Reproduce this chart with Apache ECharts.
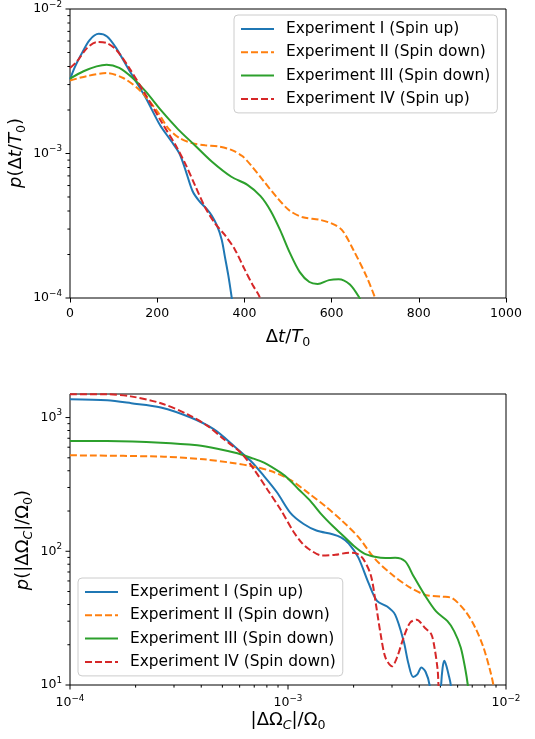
<!DOCTYPE html>
<html><head><meta charset="utf-8">
<script src="https://cdn.jsdelivr.net/npm/echarts@6/dist/echarts.min.js"></script>
<style>html,body{margin:0;padding:0;background:#fff}#c{width:535px;height:739px}</style>
</head><body><div id="c"></div>
<script>
// ---------- Top panel: p(Δt/T0) vs Δt/T0 ----------
const dtExp1X = [0, 10, 25, 45, 66, 85, 106, 136, 173, 206, 232, 251, 266, 281, 296, 314, 325, 337, 348, 355, 363, 370, 378];
const dtExp1Y = [3.25e-3, 3.9e-3, 4.8e-3, 6.1e-3, 6.73e-3, 6.45e-3, 5.36e-3, 3.75e-3, 2.45e-3, 1.58e-3, 1.22e-3, 1.0e-3, 7.5e-4, 5.5e-4, 4.7e-4, 4.12e-4, 3.72e-4, 3.18e-4, 2.53e-4, 1.95e-4, 1.44e-4, 1.05e-4, 7.0e-5];
const dtExp2X = [0, 38, 84, 122, 161, 199, 225, 251, 280, 310, 340, 370, 395, 415, 445, 475, 504, 534, 572, 601, 624, 650, 680, 700, 712];
const dtExp2Y = [3.2e-3, 3.43e-3, 3.6e-3, 3.33e-3, 2.72e-3, 1.98e-3, 1.5e-3, 1.28e-3, 1.18e-3, 1.14e-3, 1.12e-3, 1.06e-3, 9.6e-4, 8.3e-4, 6.4e-4, 4.95e-4, 4.02e-4, 3.62e-4, 3.48e-4, 3.27e-4, 2.95e-4, 2.15e-4, 1.41e-4, 1.0e-4, 8.0e-5];
const dtExp3X = [0, 31, 61, 84, 113, 143, 173, 210, 248, 285, 325, 370, 407, 437, 460, 482, 504, 527, 549, 568, 594, 616, 642, 664, 675];
const dtExp3Y = [3.3e-3, 3.71e-3, 4.01e-3, 4.12e-3, 3.91e-3, 3.34e-3, 2.7e-3, 1.97e-3, 1.47e-3, 1.15e-3, 8.8e-4, 6.9e-4, 6.07e-4, 5.07e-4, 4.02e-4, 2.95e-4, 2.06e-4, 1.51e-4, 1.29e-4, 1.25e-4, 1.33e-4, 1.35e-4, 1.24e-4, 1.0e-4, 8.5e-5];
const dtExp4X = [0, 16, 39, 61, 84, 106, 136, 173, 210, 243, 266, 288, 310, 333, 355, 378, 400, 419, 434, 445];
const dtExp4Y = [3.9e-3, 4.34e-3, 5.36e-3, 5.9e-3, 5.81e-3, 5.22e-3, 3.9e-3, 2.56e-3, 1.65e-3, 1.13e-3, 8.3e-4, 5.9e-4, 4.23e-4, 3.27e-4, 2.73e-4, 2.17e-4, 1.59e-4, 1.23e-4, 1.03e-4, 8.0e-5];
const topNames = ['Experiment I (Spin up)', 'Experiment II (Spin down)', 'Experiment III (Spin down)', 'Experiment IV (Spin up)'];

// ---------- Bottom panel: p(|ΔΩC|/Ω0) vs |ΔΩC|/Ω0 ----------
const omExp1X = [1.0e-4, 1.48e-4, 1.91e-4, 2.61e-4, 3.58e-4, 4.58e-4, 5.65e-4, 6.75e-4, 7.76e-4, 8.93e-4, 1.03e-3, 1.18e-3, 1.35e-3, 1.6e-3, 1.75e-3, 1.9e-3, 2.1e-3, 2.34e-3, 2.56e-3, 2.85e-3, 3.1e-3, 3.39e-3, 3.57e-3, 3.75e-3, 3.92e-3, 4.09e-3, 4.28e-3, 4.46e-3, 4.6e-3, 4.95e-3, 5.04e-3, 5.12e-3, 5.21e-3, 5.32e-3, 5.45e-3, 5.58e-3, 5.7e-3];
const omExp1Y = [1370, 1345, 1280, 1190, 1000, 815, 613, 473, 365, 274, 192, 160, 143, 134, 127, 114, 90, 58, 42.5, 38.6, 33.6, 21.4, 14.4, 11.5, 12, 13.5, 12.5, 10, 6, 5, 10, 13.5, 15.2, 14, 12, 10, 6];
const omExp2X = [1.0e-4, 2.7e-4, 4.12e-4, 5.46e-4, 6.75e-4, 8.34e-4, 1.03e-3, 1.25e-3, 1.48e-3, 1.77e-3, 2.11e-3, 2.5e-3, 3.0e-3, 3.6e-3, 4.3e-3, 5.12e-3, 5.68e-3, 6.52e-3, 7.23e-3, 7.88e-3, 8.45e-3, 8.75e-3, 9.0e-3];
const omExp2Y = [522, 510, 487, 460, 434, 398, 340, 270, 218, 169, 127, 88, 67, 54, 47, 45.8, 44.5, 35.5, 26.8, 19.1, 12.9, 10, 7];
const omExp3X = [1.0e-4, 1.48e-4, 2.61e-4, 3.84e-4, 4.74e-4, 5.86e-4, 6.75e-4, 7.76e-4, 9.25e-4, 1.0e-3, 1.12e-3, 1.26e-3, 1.41e-3, 1.6e-3, 1.78e-3, 2.0e-3, 2.24e-3, 2.5e-3, 2.8e-3, 3.1e-3, 3.45e-3, 3.75e-3, 4.24e-3, 4.78e-3, 5.39e-3, 5.78e-3, 6.2e-3, 6.52e-3, 6.68e-3, 6.85e-3];
const omExp3Y = [668, 667, 649, 620, 585, 540, 501, 460, 387, 350, 290, 240, 192, 155, 132, 110, 96, 91, 89, 89.5, 84, 66, 47, 35.5, 30, 25.3, 19.1, 12.9, 10, 7];
const omExp4X = [1.0e-4, 1.48e-4, 1.9e-4, 2.61e-4, 3.45e-4, 4.27e-4, 5.08e-4, 6.07e-4, 6.98e-4, 8.04e-4, 9.25e-4, 1.06e-3, 1.16e-3, 1.245e-3, 1.43e-3, 1.65e-3, 1.9e-3, 2.07e-3, 2.22e-3, 2.4e-3, 2.52e-3, 2.66e-3, 2.8e-3, 3.0e-3, 3.16e-3, 3.39e-3, 3.63e-3, 3.89e-3, 4.24e-3, 4.54e-3, 4.7e-3, 4.86e-3, 4.9e-3, 4.98e-3];
const omExp4Y = [1495, 1492, 1440, 1280, 1060, 866, 688, 546, 410, 290, 205, 140, 115, 104, 93, 94, 97.5, 96, 87, 66, 42, 24, 16, 13.8, 16, 22.6, 29.2, 30.8, 26.8, 24, 19, 12.9, 10, 6];
const bottomNames = ['Experiment I (Spin up)', 'Experiment II (Spin down)', 'Experiment III (Spin down)', 'Experiment IV (Spin down)'];

// ---------- Tick values for log axes ----------
const topYMajor = [1e-4, 1e-3, 1e-2];
const topYMinor = [2e-4, 3e-4, 4e-4, 5e-4, 6e-4, 7e-4, 8e-4, 9e-4, 2e-3, 3e-3, 4e-3, 5e-3, 6e-3, 7e-3, 8e-3, 9e-3];
const botXMajor = [1e-4, 1e-3, 1e-2];
const botXMinor = [2e-4, 3e-4, 4e-4, 5e-4, 6e-4, 7e-4, 8e-4, 9e-4, 2e-3, 3e-3, 4e-3, 5e-3, 6e-3, 7e-3, 8e-3, 9e-3];
const botYMajor = [10, 100, 1000];
const botYMinor = [20, 30, 40, 50, 60, 70, 80, 90, 200, 300, 400, 500, 600, 700, 800, 900];

const FONT = 'DejaVu Sans';
const C1 = '#1f77b4', C2 = '#ff7f0e', C3 = '#2ca02c', C4 = '#d62728';
const DASH = [7, 3];

const zip = (xs, ys) => xs.map((x, i) => [x, ys[i]]);

function lineSeries(name, xs, ys, color, dashed, gi) {
  return {
    type: 'line', name, data: zip(xs, ys), xAxisIndex: gi, yAxisIndex: gi,
    symbol: 'none', showSymbol: false, smooth: 0.3, clip: true,
    lineStyle: { color, width: 2, type: dashed ? DASH : 'solid' },
    itemStyle: { color },
    emphasis: { disabled: true }, silent: true, animation: false
  };
}

function tickSeries(gi, data, dir, len) {
  return {
    type: 'custom', xAxisIndex: gi, yAxisIndex: gi, data, silent: true, clip: false, animation: false,
    renderItem(params, api) {
      const p = api.coord([api.value(0), api.value(1)]);
      const x1 = p[0], y1 = p[1];
      const x2 = dir === 'y' ? x1 - len : x1;
      const y2 = dir === 'y' ? y1 : y1 + len;
      return { type: 'line', shape: { x1, y1, x2, y2 }, style: { stroke: '#000', lineWidth: 1 } };
    }
  };
}

function powLabel(v) {
  const e = Math.log10(v);
  const r = Math.round(e);
  if (Math.abs(e - r) > 1e-6) return '';
  return '{b|10}{s|' + (r < 0 ? '\u2212' + (-r) : String(r)) + '}';
}
const powRich = {
  b: { fontSize: 12.5, lineHeight: 18, fontFamily: FONT, color: '#000', verticalAlign: 'middle' },
  s: { fontSize: 8.8, lineHeight: 12, fontFamily: FONT, color: '#000', verticalAlign: 'top' }
};
const logLabel = { formatter: powLabel, rich: powRich, margin: 8, color: '#000', fontFamily: FONT };

const titleRich = {
  up: { fontSize: 18, lineHeight: 24, fontFamily: FONT, fill: '#000', color: '#000', verticalAlign: 'middle' },
  it: { fontSize: 18, lineHeight: 24, fontFamily: FONT, fontStyle: 'italic', fill: '#000', color: '#000', verticalAlign: 'middle' },
  sub: { fontSize: 12.6, lineHeight: 15, fontFamily: FONT, fill: '#000', color: '#000', verticalAlign: 'bottom' },
  subi: { fontSize: 12.6, lineHeight: 15, fontFamily: FONT, fontStyle: 'italic', fill: '#000', color: '#000', verticalAlign: 'bottom' }
};

function legendCfg(names, left, top) {
  return {
    data: names, orient: 'vertical', left, top,
    itemWidth: 33, itemHeight: 12, itemGap: 7.3,
    padding: [6, 7, 6, 6],
    backgroundColor: 'rgba(255,255,255,0.8)', borderColor: '#cccccc', borderWidth: 1, borderRadius: 4,
    textStyle: { fontFamily: FONT, fontSize: 15.4, color: '#000', lineHeight: 16, padding: [0, 0, 0, 7] },
    itemStyle: { opacity: 0 },
    selectedMode: false
  };
}

const chart = echarts.init(document.getElementById('c'), null, { renderer: 'canvas' });
chart.setOption({
  backgroundColor: '#fff',
  animation: false,
  textStyle: { fontFamily: FONT },
  grid: [
    { left: 70, top: 7, width: 436, height: 291, show: true, borderColor: '#000', borderWidth: 1, backgroundColor: 'transparent' },
    { left: 70, top: 394, width: 436, height: 291, show: true, borderColor: '#000', borderWidth: 1, backgroundColor: 'transparent' }
  ],
  xAxis: [
    { gridIndex: 0, type: 'value', min: 0, max: 1000, interval: 200,
      axisLine: { show: false }, splitLine: { show: false },
      axisTick: { show: true, length: 4.5, lineStyle: { color: '#000', width: 1 } },
      axisLabel: { fontSize: 12.5, color: '#000', margin: 9, fontFamily: FONT, formatter: v => String(v) } },
    { gridIndex: 1, type: 'log', logBase: 10, min: 1e-4, max: 1e-2,
      axisLine: { show: false }, splitLine: { show: false }, axisTick: { show: false },
      axisLabel: Object.assign({}, logLabel, { margin: 9 }) }
  ],
  yAxis: [
    { gridIndex: 0, type: 'log', logBase: 10, min: 1e-4, max: 1e-2,
      axisLine: { show: false }, splitLine: { show: false }, axisTick: { show: false },
      axisLabel: logLabel },
    { gridIndex: 1, type: 'log', logBase: 10, min: 10, max: 1500,
      axisLine: { show: false }, splitLine: { show: false }, axisTick: { show: false },
      axisLabel: logLabel }
  ],
  legend: [legendCfg(topNames, 234, 15), legendCfg(bottomNames, 78, 578)],
  series: [
    lineSeries(topNames[0], dtExp1X, dtExp1Y, C1, false, 0),
    lineSeries(topNames[1], dtExp2X, dtExp2Y, C2, true, 0),
    lineSeries(topNames[2], dtExp3X, dtExp3Y, C3, false, 0),
    lineSeries(topNames[3], dtExp4X, dtExp4Y, C4, true, 0),
    lineSeries(bottomNames[0], omExp1X, omExp1Y, C1, false, 1),
    lineSeries(bottomNames[1], omExp2X, omExp2Y, C2, true, 1),
    lineSeries(bottomNames[2], omExp3X, omExp3Y, C3, false, 1),
    lineSeries(bottomNames[3], omExp4X, omExp4Y, C4, true, 1),
    tickSeries(0, topYMajor.map(v => [0, v]), 'y', 4.5),
    tickSeries(0, topYMinor.map(v => [0, v]), 'y', 2.6),
    tickSeries(1, botXMajor.map(v => [v, 10]), 'x', 4.5),
    tickSeries(1, botXMinor.map(v => [v, 10]), 'x', 2.6),
    tickSeries(1, botYMajor.map(v => [1e-4, v]), 'y', 4.5),
    tickSeries(1, botYMinor.map(v => [1e-4, v]), 'y', 2.6)
  ],
  graphic: [
    { type: 'text', x: 288, y: 337, silent: true,
      style: { text: '{up|\u0394}{it|t}{up|/}{it|T}{sub|0}', rich: titleRich, align: 'center', verticalAlign: 'middle', textAlign: 'center', textVerticalAlign: 'middle', fill: '#000', fontFamily: FONT, fontSize: 18 } },
    { type: 'text', x: 16, y: 153, rotation: Math.PI / 2, silent: true,
      style: { text: '{it|p}{up|(\u0394}{it|t}{up|/}{it|T}{sub|0}{up|)}', rich: titleRich, align: 'center', verticalAlign: 'middle', textAlign: 'center', textVerticalAlign: 'middle', fill: '#000', fontFamily: FONT, fontSize: 18 } },
    { type: 'text', x: 288, y: 720, silent: true,
      style: { text: '{up||\u0394\u03A9}{subi|C}{up||/\u03A9}{sub|0}', rich: titleRich, align: 'center', verticalAlign: 'middle', textAlign: 'center', textVerticalAlign: 'middle', fill: '#000', fontFamily: FONT, fontSize: 18 } },
    { type: 'text', x: 23, y: 540, rotation: Math.PI / 2, silent: true,
      style: { text: '{it|p}{up|(|\u0394\u03A9}{subi|C}{up||/\u03A9}{sub|0}{up|)}', rich: titleRich, align: 'center', verticalAlign: 'middle', textAlign: 'center', textVerticalAlign: 'middle', fill: '#000', fontFamily: FONT, fontSize: 18 } }
  ]
});
</script>
</body></html>
